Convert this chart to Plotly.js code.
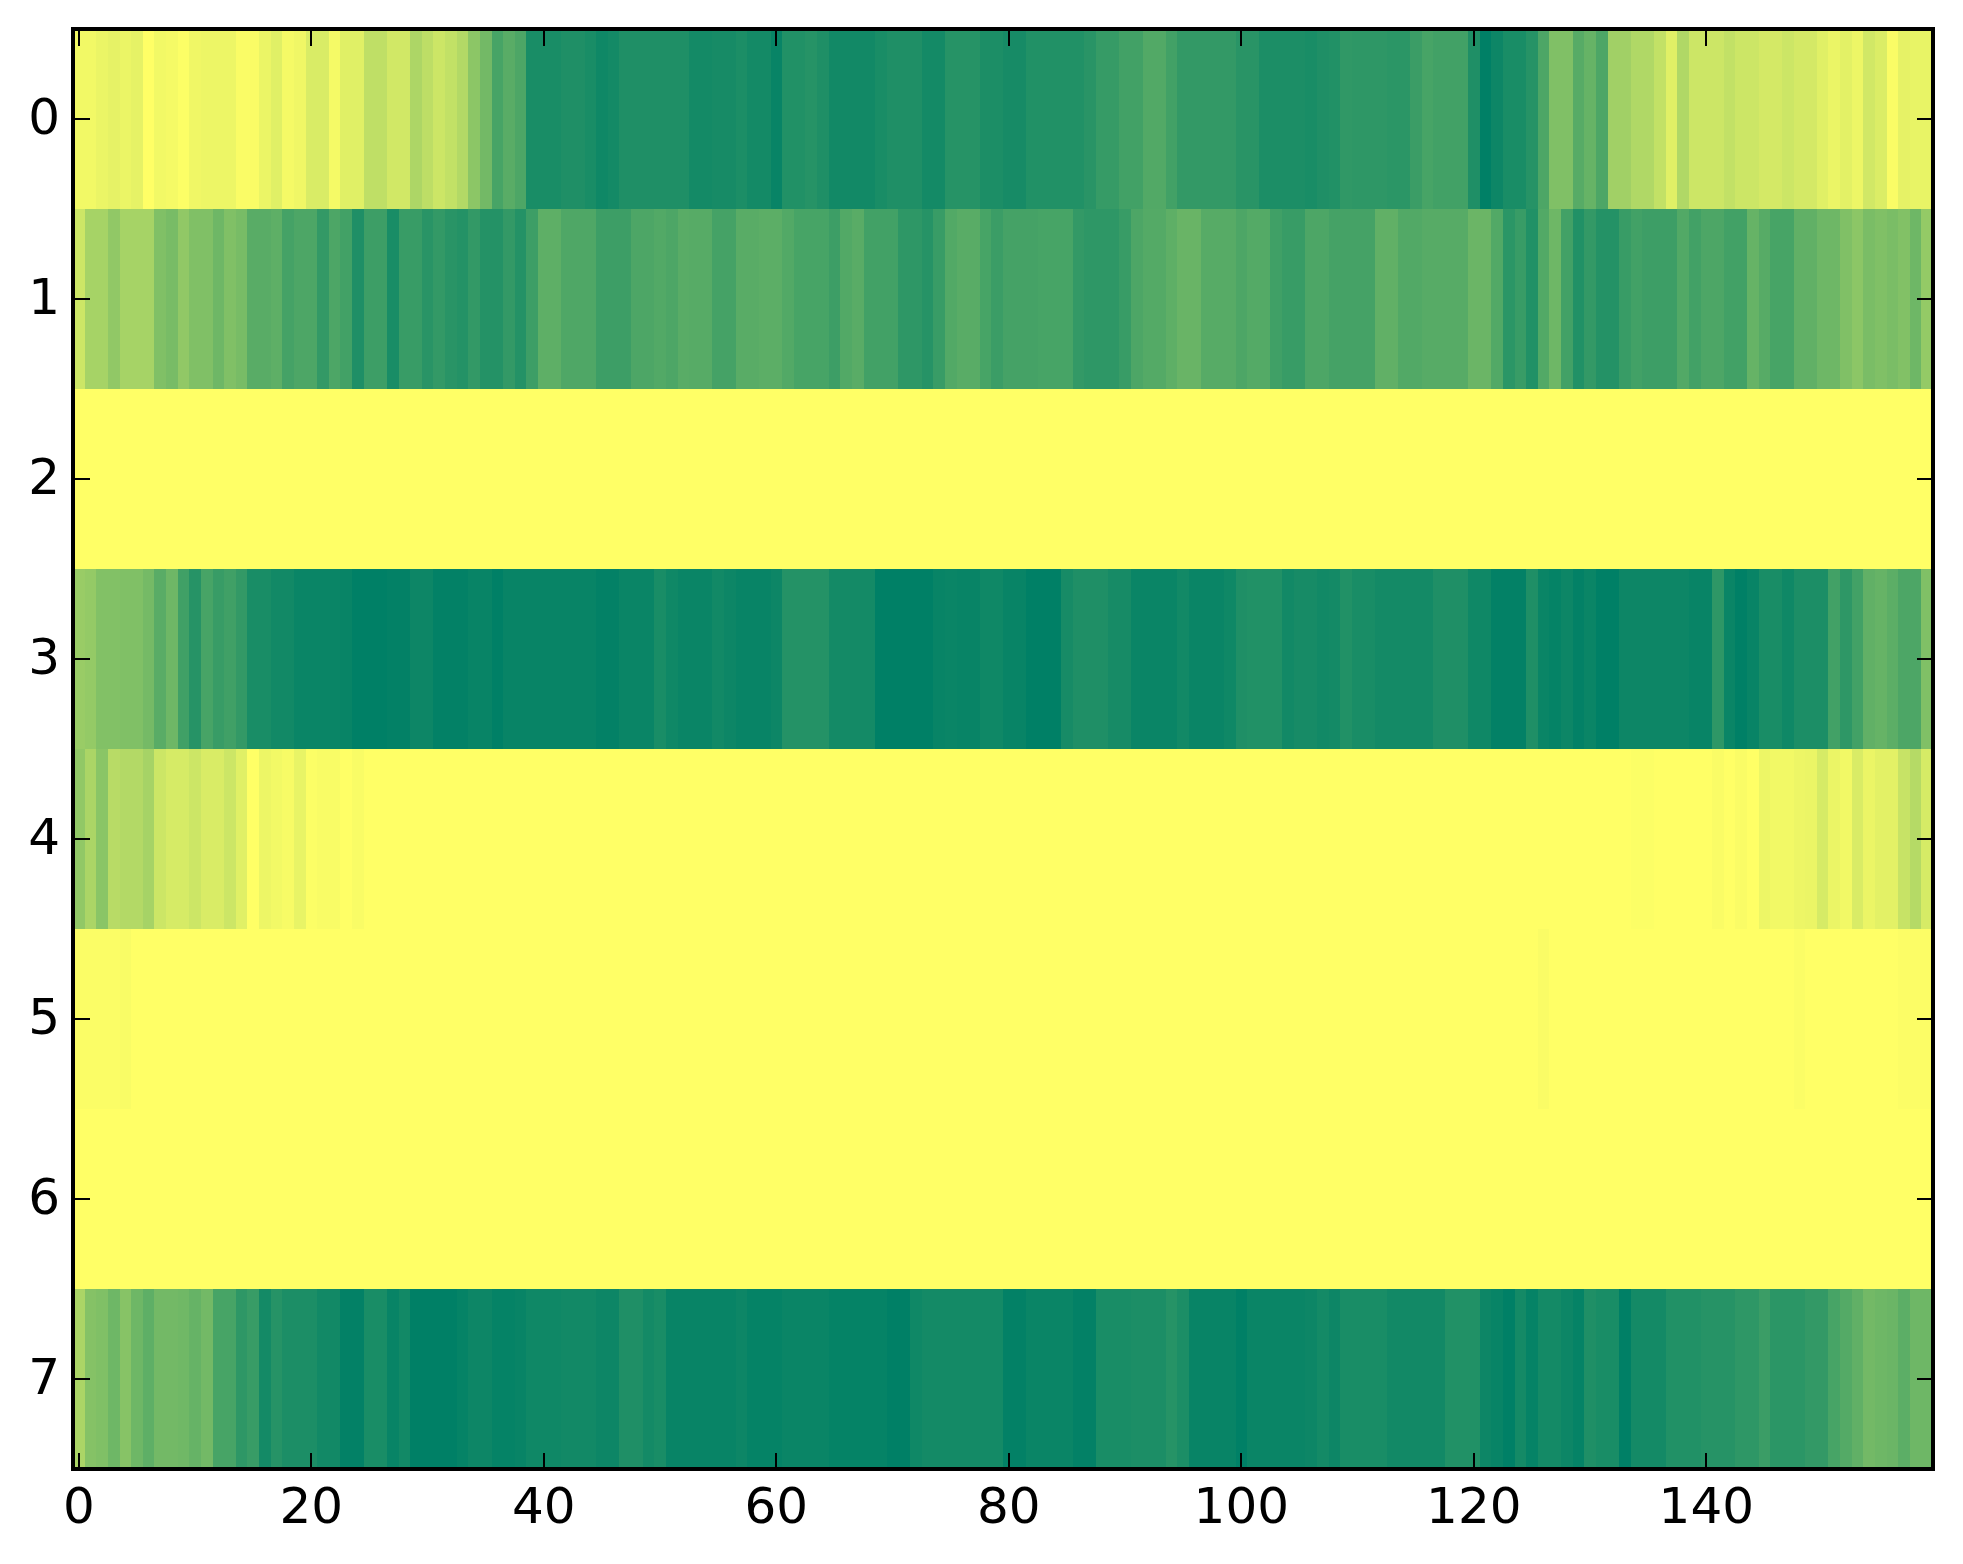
<!DOCTYPE html>
<html>
<head>
<meta charset="utf-8">
<script src="https://cdn.plot.ly/plotly-3.0.1.min.js"></script>
<style>html,body{margin:0;padding:0;background:#fff}#chart{width:1963px;height:1564px}</style>
</head>
<body>
<div id="chart"></div>
<script>
const row0 = [
.05,.05,.08,.1,.08,.1,0,.05,.04,.01,
.06,.07,.07,.07,.02,.02,.08,.12,.04,.06,
.15,.15,.04,.12,.12,.25,.25,.18,.18,.32,
.26,.2,.24,.3,.45,.55,.72,.65,.7,.9,
.9,.9,.88,.88,.9,.94,.92,.88,.88,.88,
.88,.88,.88,.92,.92,.91,.91,.89,.92,.92,
.97,.87,.87,.85,.88,.93,.93,.93,.93,.9,
.88,.88,.88,.92,.92,.85,.85,.85,.89,.89,
.91,.91,.87,.87,.87,.87,.87,.84,.79,.79,
.74,.74,.68,.68,.74,.8,.8,.8,.8,.8,
.84,.84,.89,.89,.89,.89,.9,.88,.87,.81,
.82,.82,.82,.83,.83,.77,.72,.74,.74,.74,
.88,1,.95,.9,.9,.85,.7,.5,.5,.66,
.6,.7,.37,.37,.31,.31,.24,.12,.31,.2,
.2,.2,.24,.2,.2,.17,.17,.2,.17,.17,
.12,.08,.11,.07,.18,.14,.02,.1,.09,.09];
const row1 = [
.2,.35,.35,.43,.35,.35,.35,.5,.53,.43,
.5,.5,.57,.5,.53,.65,.65,.63,.73,.7,
.7,.8,.7,.74,.88,.76,.76,.9,.78,.78,
.84,.8,.84,.86,.8,.86,.86,.8,.86,.76,
.63,.63,.69,.69,.69,.76,.76,.76,.7,.7,
.68,.7,.65,.66,.66,.73,.73,.65,.65,.64,
.64,.68,.72,.72,.72,.76,.68,.65,.74,.74,
.74,.82,.82,.85,.78,.68,.65,.65,.72,.77,
.73,.73,.73,.72,.72,.72,.8,.82,.82,.82,
.78,.7,.67,.67,.63,.59,.59,.66,.66,.66,
.7,.67,.67,.75,.78,.78,.7,.7,.73,.73,
.73,.73,.62,.62,.68,.68,.66,.66,.66,.66,
.58,.58,.68,.83,.78,.87,.68,.57,.74,.87,
.8,.86,.86,.78,.74,.76,.76,.76,.68,.74,
.7,.7,.74,.74,.6,.66,.72,.72,.62,.62,
.57,.57,.5,.45,.52,.5,.52,.49,.57,.42];
const row2 = new Array(160).fill(0);
const row3 = [
.4,.42,.49,.49,.5,.5,.54,.65,.57,.75,
.85,.72,.78,.75,.8,.9,.9,.93,.93,.96,
.96,.96,.96,.97,1,1,1,.99,.99,.95,
.95,.99,.99,.99,.97,.97,1,.97,.97,.97,
.97,.97,.97,.97,.97,.99,.99,.96,.96,.96,
.9,.94,.96,.96,.96,.93,.95,.97,.97,.97,
.95,.86,.86,.86,.86,.92,.92,.92,.92,1,
1,1,1,1,.97,.96,.97,.97,.94,.94,
.97,.97,1,1,1,.91,.88,.88,.88,.91,
.91,.96,.96,.96,.96,.93,.96,.96,.96,.94,
.88,.87,.87,.87,.93,.91,.91,.93,.92,.87,
.9,.9,.92,.92,.92,.92,.92,.88,.88,.88,
.94,.94,.99,.99,.99,.88,.96,.98,.95,.99,
.96,1,1,.95,.95,.95,.95,.95,.95,.97,
.97,.82,.96,1,.97,.9,.9,.94,.89,.89,
.89,.74,.82,.74,.62,.6,.64,.7,.7,.5];
const row4 = [
.43,.33,.46,.28,.3,.3,.35,.2,.16,.16,
.2,.15,.15,.2,.12,0,.07,.05,.03,.09,
.01,.025,.025,0,.025,0,0,0,0,0,
0,0,0,0,0,0,0,0,0,0,
0,0,0,0,0,0,0,0,0,0,
0,0,0,0,0,0,0,0,0,0,
0,0,0,0,0,0,0,0,0,0,
0,0,0,0,0,0,0,0,0,0,
0,0,0,0,0,0,0,0,0,0,
0,0,0,0,0,0,0,0,0,0,
0,0,0,0,0,0,0,0,0,0,
0,0,0,0,0,0,0,0,0,0,
0,0,0,0,0,0,0,0,0,0,
0,0,0,0,.01,.01,0,0,0,0,
0,.02,0,.02,0,.07,.05,.05,.07,.08,
.16,.08,.05,.15,.08,.11,.11,.22,.29,.16];
const row5 = [
.015,.015,.015,.015,.025,0,0,0,0,0,
0,0,0,0,0,0,0,0,0,0,
0,0,0,0,0,0,0,0,0,0,
0,0,0,0,0,0,0,0,0,0,
0,0,0,0,0,0,0,0,0,0,
0,0,0,0,0,0,0,0,0,0,
0,0,0,0,0,0,0,0,0,0,
0,0,0,0,0,0,0,0,0,0,
0,0,0,0,0,0,0,0,0,0,
0,0,0,0,0,0,0,0,0,0,
0,0,0,0,0,0,0,0,0,0,
0,0,0,0,0,0,0,0,0,0,
0,0,0,0,0,0,.02,0,0,0,
0,0,0,0,0,0,0,0,0,0,
0,0,0,0,0,0,0,0,.015,0,
0,0,0,0,0,0,0,.012,.012,.012];
const row6 = new Array(160).fill(0);
const row7 = [
.33,.48,.5,.57,.47,.57,.63,.55,.55,.56,
.6,.55,.72,.72,.82,.78,.92,.85,.89,.89,
.89,.93,.93,.99,.99,.9,.9,.97,.93,1,
1,1,1,.98,.95,.95,.98,.98,.97,.94,
.94,.94,.93,.93,.93,.95,.95,.88,.88,.92,
.9,.97,.97,.97,.97,.97,.97,.95,.98,.98,
.98,.96,.96,.96,.96,.98,.98,.98,.98,.98,
1,1,.94,.92,.92,.92,.92,.92,.92,.92,
.99,.99,.96,.96,.96,.96,.99,.99,.9,.9,
.9,.89,.89,.89,.85,.89,.97,.97,.97,.97,
1,.96,.96,.96,.96,.96,.95,.92,.95,.9,
.9,.9,.9,.93,.93,.93,.93,.93,.87,.87,
.87,.95,.97,1,.92,.98,.92,.92,.95,.98,
.88,.9,.9,1,.92,.92,.92,.87,.87,.87,
.85,.85,.85,.82,.82,.77,.83,.83,.83,.8,
.8,.72,.67,.62,.55,.57,.58,.64,.57,.57];

const rowLabels = [0,1,2,3,4,5,6,7];
const colIndex = Array.from({length: 160}, (_, i) => i);
const xTicks = [0,20,40,60,80,100,120,140];

const axisBase = {
  showline: false, mirror: 'allticks',
  ticks: 'inside', ticklen: 16.5, tickwidth: 2, tickcolor: '#000',
  showgrid: false, zeroline: false,
  tickfont: {family: 'DejaVu Sans', size: 50, color: '#000'}
};

Plotly.newPlot('chart', [{
  type: 'heatmap',
  z: [row0,row1,row2,row3,row4,row5,row6,row7],
  x: colIndex,
  y: rowLabels,
  zmin: 0, zmax: 1,
  zsmooth: false,
  showscale: false,
  colorscale: [[0,'rgb(255,255,102)'],[1,'rgb(0,128,102)']]
}], {
  width: 1963, height: 1564,
  paper_bgcolor: '#fff', plot_bgcolor: '#fff',
  margin: {l: 73, r: 30, t: 29, b: 95, pad: 0},
  xaxis: Object.assign({}, axisBase, {range: [-0.5,159.5], tickmode: 'array', tickvals: xTicks, ticktext: xTicks.map(String), ticklabelstandoff: 3}),
  yaxis: Object.assign({}, axisBase, {range: [7.5,-0.5], tickmode: 'array', tickvals: rowLabels, ticktext: rowLabels.map(String), ticklabelshift: 3, ticklabelstandoff: 12}),
  shapes: [{type: 'rect', xref: 'paper', yref: 'paper', x0: 0, x1: 1, y0: 0, y1: 1, layer: 'above', line: {color: '#000', width: 4}, fillcolor: 'rgba(0,0,0,0)'}]
}, {displayModeBar: false, staticPlot: true});
</script>
</body>
</html>
